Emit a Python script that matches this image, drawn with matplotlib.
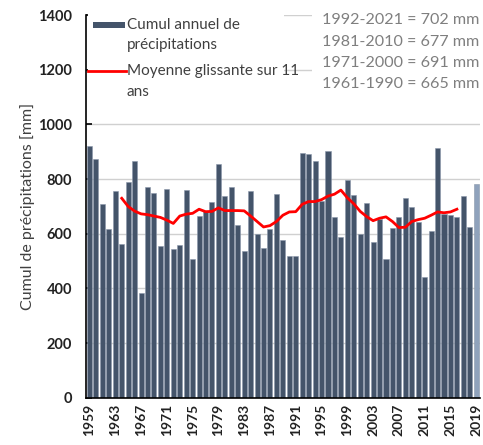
import numpy as np
import matplotlib
matplotlib.use("Agg")
import matplotlib.pyplot as plt
from matplotlib.patches import Rectangle

plt.rcParams['font.family'] = ['Lato', 'DejaVu Sans']

years = np.arange(1959, 2020)
cumul = [920, 873, 710, 619, 756, 561, 791, 866, 385, 771,
         751, 554, 765, 545, 558, 761, 509, 667, 685, 718,
         856, 738, 771, 633, 537, 756, 600, 549, 617, 745,
         577, 520, 518, 894, 892, 866, 721, 904, 661, 590,
         797, 741, 599, 714, 570, 654, 507, 621, 663, 731,
         698, 643, 443, 610, 914, 672, 670, 663, 738, 625,
         782]

ma_years = np.arange(1964, 2017)
moyenne = [730, 700, 683, 673, 670, 665, 660, 650, 638, 665,
           672, 675, 690, 681, 682, 695, 685, 685, 685, 684,
           665, 645, 625, 630, 645, 668, 680, 681, 708, 718,
           718, 725, 738, 745, 760, 732, 710, 682, 663, 648,
           657, 662, 645, 623, 624, 645, 652, 657, 668, 680,
           677, 680, 690]

normales = ["1992-2021 = 702 mm", "1981-2010 = 677 mm",
            "1971-2000 = 691 mm", "1961-1990 = 665 mm"]

bar_col = '#44546A'
light_col = '#8FA2BC'
W, H = 483, 445


def fx(px):
    return px / W


def fy(py):
    return 1 - py / H


fig = plt.figure(figsize=(4.83, 4.45), dpi=100)
ax = fig.add_axes([0.178, 0.106, 0.816, 0.86])

colors = [bar_col] * (len(years) - 1) + [light_col]
ax.bar(years, cumul, width=0.78, color=colors, edgecolor='#8A97AA', linewidth=0.4, zorder=2)
ax.plot(ma_years, moyenne, color='#FF0000', lw=2, zorder=3)

ax.set_xlim(1958.45, 2019.6)
ax.set_ylim(0, 1400)
ax.set_yticks(range(0, 1401, 200))
ax.set_xticks(years[::4])
ax.set_xticklabels([str(y) for y in years[::4]], rotation=90, fontweight='bold', fontsize=10, color='#222222')
for lab in ax.get_yticklabels():
    lab.set_fontweight('bold')
    lab.set_fontsize(10.5)
    lab.set_color('#222222')
ax.yaxis.grid(True, color='#D0D0D0', lw=1, zorder=0)
ax.set_axisbelow(True)
for s in ['top', 'right']:
    ax.spines[s].set_visible(False)
ax.spines['left'].set_linewidth(1.2)
ax.spines['bottom'].set_linewidth(1.2)
ax.tick_params(axis='x', length=0, pad=4)
ax.tick_params(axis='y', length=4, width=1.2, direction='in', pad=10)
ax.set_ylabel('Cumul de précipitations [mm]', fontsize=11.5, color='#404040', labelpad=2)

# legend drawn by hand (Excel style: handle next to first line of label)
fig.patches.append(Rectangle((fx(88), fy(100)), fx(196), fy(6) - fy(100),
                             transform=fig.transFigure, facecolor='white', edgecolor='none', zorder=5))
fig.patches.append(Rectangle((fx(93), fy(28)), fx(32), fy(22) - fy(28),
                             transform=fig.transFigure, facecolor=bar_col, edgecolor='none', zorder=6))
fig.lines.append(plt.Line2D([fx(88), fx(126)], [fy(71), fy(71)], transform=fig.transFigure,
                            color='#FF0000', lw=2, zorder=6))
leg_lines = [("Cumul annuel de", 25), ("précipitations", 45),
             ("Moyenne glissante sur 11", 71), ("ans", 92)]
for txt, py in leg_lines:
    fig.text(fx(127), fy(py), txt, fontsize=11, color='#404040', va='center', ha='left', zorder=7)

# normales, one line each
for k, txt in enumerate(normales):
    fig.text(fx(322), fy(20 + 21.5 * k), txt, fontsize=11.6, color='#7F7F7F',
             va='center', ha='left', zorder=7)
fig.patches.append(Rectangle((fx(312), fy(100)), fx(171), fy(4) - fy(100),
                             transform=fig.transFigure, facecolor='white', edgecolor='none', zorder=5))

fig.savefig('out.png', dpi=100)
